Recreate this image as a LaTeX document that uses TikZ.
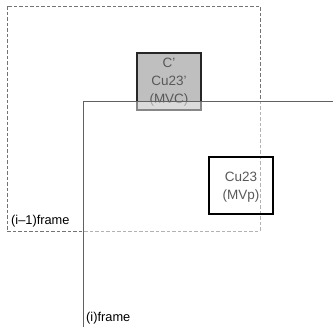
\documentclass[tikz,border=0pt]{standalone}
\usepackage{fontspec}
\setmainfont{Liberation Sans}
\begin{document}
\begin{tikzpicture}[x=1pt,y=-1pt,
  prevframe/.style={draw=black!55,line width=0.9pt,dash pattern=on 3.5pt off 2pt},
  curframe/.style={draw=black!62,line width=0.9pt},
  mvcbox/.style={draw=black!85,line width=1.8pt,fill=black!25},
  mvpbox/.style={draw=black,line width=1.8pt},
  boxtext/.style={text=black!65,font=\fontsize{13.5}{18}\selectfont,align=center,inner sep=0pt},
  labeltext/.style={text=black,font=\fontsize{12.8}{15}\selectfont,inner sep=0pt,anchor=west},
  veil/.style={fill=white,fill opacity=0.45,draw=none}]
\useasboundingbox (0,0) rectangle (333,327);
% previous frame
\draw[prevframe] (7,6) rectangle (260,231);
% MVC box
\node[mvcbox,minimum width=64pt,minimum height=57pt,inner sep=0pt] (mvc) at (169,81.5) {};
\node[boxtext] (mvct) at (169,82) {C'\\Cu23'\\(MVC)};
% veil of the current frame
\fill[veil] (83,101) rectangle (333,327);
% current frame
\coordinate (fc) at (83,101);
\coordinate (fr) at (333,101);
\coordinate (fb) at (83,327);
\draw[curframe] (fr) -- (fc) -- (fb);
% MVp box
\node[mvpbox,minimum width=64pt,minimum height=57pt,inner sep=0pt] (mvp) at (241,185.5) {};
\node[boxtext] (mvpt) at (241,187) {Cu23\\(MVp)};
% labels
\node[labeltext] (lprev) at (11,221) {(i--1)frame};
\node[labeltext] (lcur) at (86,318) {(i)frame};
\end{tikzpicture}
\end{document}
